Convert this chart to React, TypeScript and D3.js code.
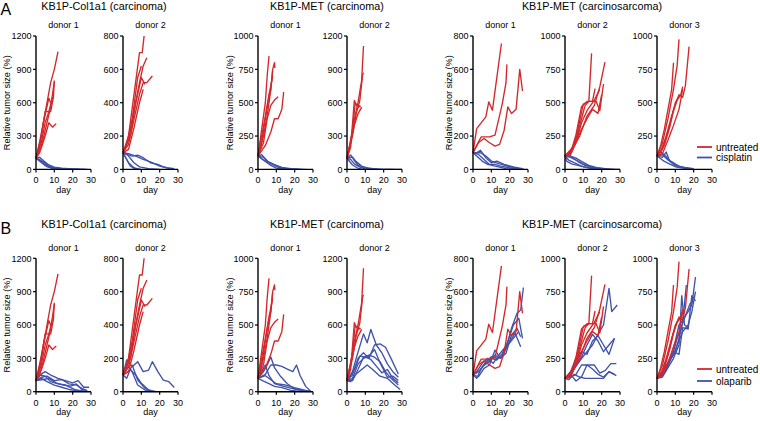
import React from 'react';
import * as d3 from 'd3';

type Pt = [number, number];

// ---------- DATA ----------
const ROW_LABELS = ['A', 'B'];
const GROUP_TITLES = ['KB1P-Col1a1 (carcinoma)', 'KB1P-MET (carcinoma)', 'KB1P-MET (carcinosarcoma)'];
const DONOR_LABELS = ['donor 1', 'donor 2', 'donor 1', 'donor 2', 'donor 1', 'donor 2', 'donor 3'];
const Y_MAX = [1200, 800, 1000, 1200, 800, 1000, 1000];
const X_TICKS = [0, 10, 20, 30];
const TREATMENTS = ['cisplatin', 'olaparib'];
const UNTREATED_LABEL = 'untreated';

// Col1a1 donor 1
const col1D1Untreated: Pt[][] = [
  [[0, 100], [2, 250], [4, 420], [6, 600], [8, 780], [10, 900], [12, 1060]],
  [[0, 100], [3, 300], [5, 520], [8, 520], [9.5, 650], [10, 800]],
  [[0, 100], [2, 200], [4, 420], [7, 640], [8, 600]],
  [[0, 100], [3, 200], [5, 300], [7, 420], [9, 380], [11, 410]],
  [[0, 100], [3, 250], [5, 420], [7, 520], [9, 650]],
  [[0, 100], [2, 150], [4, 280], [6, 420], [8, 560], [10, 790]],
];
const col1D1Cisplatin: Pt[][] = [
  [[0, 100], [2, 90], [4, 50], [7, 20], [10, 10], [14, 5], [21, 0], [28, 0]],
  [[0, 100], [3, 70], [5, 40], [8, 15], [12, 5], [17, 0]],
  [[0, 100], [2, 110], [4, 80], [7, 40], [10, 20], [14, 10], [20, 5], [27, 0]],
  [[0, 100], [3, 60], [6, 25], [9, 10], [13, 0]],
  [[0, 100], [4, 70], [7, 30], [11, 10], [16, 5], [24, 0]],
];
const col1D1Olaparib: Pt[][] = [
  [[0, 100], [3, 160], [5, 180], [8, 150], [12, 120], [16, 100], [20, 80], [23, 100], [26, 40], [29, 40]],
  [[0, 100], [3, 130], [6, 140], [10, 100], [14, 110], [18, 70], [22, 60], [25, 30], [28, 10]],
  [[0, 100], [4, 110], [7, 120], [11, 80], [15, 60], [19, 50], [22, 70], [25, 20], [28, 0]],
  [[0, 100], [2, 150], [5, 140], [8, 90], [12, 70], [16, 60], [21, 20], [24, 10], [27, 0]],
  [[0, 100], [3, 120], [6, 90], [10, 60], [14, 40], [18, 20], [22, 10], [27, 5]],
];

// Col1a1 donor 2
const col1D2Untreated: Pt[][] = [
  [[0, 100], [3, 200], [6, 450], [9, 700], [10.5, 700], [11.5, 800]],
  [[0, 100], [3, 180], [6, 350], [9, 520], [11, 620], [13, 670]],
  [[0, 100], [3, 150], [6, 300], [9, 450], [11, 520], [13, 520], [16, 560]],
  [[0, 100], [4, 200], [7, 400], [10, 550], [12, 510]],
  [[0, 100], [3, 120], [6, 250], [9, 400], [11, 480]],
  [[0, 100], [2, 150], [5, 300], [8, 550], [10, 620]],
];
const col1D2Cisplatin: Pt[][] = [
  [[0, 100], [2, 90], [5, 80], [8, 85], [11, 70], [15, 40], [19, 30], [22, 15], [27, 0]],
  [[0, 100], [3, 95], [7, 80], [11, 60], [15, 45], [20, 20], [24, 10], [28, 5]],
  [[0, 100], [2, 60], [4, 20], [6, 5], [10, 0]],
  [[0, 100], [3, 40], [6, 10], [9, 0]],
  [[0, 110], [3, 80], [6, 40], [9, 15], [14, 5], [20, 0]],
];
const col1D2Olaparib: Pt[][] = [
  [[0, 100], [2, 190], [5, 150], [8, 180], [11, 120], [14, 130], [16, 180], [19, 120], [22, 70], [25, 60], [28, 25]],
  [[0, 100], [3, 150], [5, 120], [8, 40], [12, 10], [15, 0]],
  [[0, 100], [4, 130], [7, 100], [10, 50], [14, 10], [18, 0]],
  [[0, 100], [2, 80], [5, 160], [8, 70], [12, 20], [16, 0]],
];

// MET carcinoma donor 1
const metD1Untreated: Pt[][] = [
  [[0, 100], [2, 300], [4, 500], [5, 700], [6, 850]],
  [[0, 100], [3, 250], [5, 400], [7, 600], [8, 750], [9, 800], [9.2, 760]],
  [[0, 100], [2, 200], [4, 380], [6, 550], [7, 600], [8, 740]],
  [[0, 100], [3, 200], [5, 380], [7, 480], [9, 520], [11, 545]],
  [[0, 100], [4, 180], [7, 280], [9, 380], [11, 380], [13, 450], [14, 580]],
  [[0, 100], [2, 250], [4, 400], [6, 560], [8, 700]],
];
const metD1Cisplatin: Pt[][] = [
  [[0, 100], [2, 110], [4, 80], [6, 50], [9, 30], [12, 10], [16, 5], [20, 0], [26, 0]],
  [[0, 100], [3, 90], [5, 60], [8, 40], [11, 20], [15, 5], [22, 0]],
  [[0, 100], [2, 80], [4, 60], [7, 30], [10, 10], [14, 0]],
  [[0, 100], [3, 70], [6, 55], [9, 35], [13, 15], [18, 5], [24, 0]],
];
const metD1Olaparib: Pt[][] = [
  [[0, 100], [3, 150], [5, 200], [7, 260], [9, 180], [12, 120], [16, 60], [20, 20], [24, 10], [28, 0]],
  [[0, 100], [4, 130], [7, 200], [10, 200], [13, 190], [16, 170], [19, 150], [21, 200], [23, 120], [26, 40], [29, 0]],
  [[0, 100], [2, 150], [4, 200], [6, 120], [9, 60], [14, 40], [20, 20], [27, 0]],
  [[0, 100], [3, 80], [6, 60], [9, 40], [13, 30], [18, 10], [24, 0]],
  [[0, 100], [4, 120], [7, 90], [10, 60], [15, 50], [20, 30], [26, 10], [29, 0]],
];

// MET carcinoma donor 2
const metD2Untreated: Pt[][] = [
  [[0, 100], [2, 250], [4, 450], [6, 600], [8, 800], [9, 1110]],
  [[0, 100], [3, 300], [5, 500], [7, 620], [8.5, 850], [9, 870]],
  [[0, 100], [2, 200], [4, 620], [5, 580], [7, 570]],
  [[0, 100], [3, 350], [4.5, 600], [6, 560], [7.5, 570]],
  [[0, 100], [2, 250], [4, 400], [6, 500], [8, 560]],
];
const metD2Cisplatin: Pt[][] = [
  [[0, 100], [2, 130], [4, 80], [6, 40], [9, 15], [14, 5], [20, 0], [30, 0]],
  [[0, 100], [2, 90], [4, 50], [7, 20], [10, 5], [15, 0]],
  [[0, 100], [3, 110], [5, 70], [8, 30], [12, 10], [18, 0], [25, 0]],
  [[0, 100], [1, 80], [3, 40], [6, 10], [9, 0]],
];
const metD2Olaparib: Pt[][] = [
  [[0, 100], [3, 180], [5, 300], [9, 520], [11, 440], [13, 560], [16, 420], [19, 350], [22, 250], [25, 180], [28, 130]],
  [[0, 100], [3, 150], [6, 300], [9, 350], [12, 300], [15, 420], [18, 430], [21, 400], [24, 300], [28, 160]],
  [[0, 100], [4, 200], [7, 320], [10, 310], [13, 290], [16, 230], [19, 170], [22, 200], [25, 120], [28, 80]],
  [[0, 100], [2, 90], [5, 160], [8, 200], [11, 240], [14, 200], [18, 140], [22, 120], [26, 60], [29, 20]],
  [[0, 100], [3, 120], [6, 250], [9, 300], [12, 320], [15, 380], [18, 260], [22, 130], [25, 140], [28, 100]],
  [[0, 100], [3, 100], [6, 200], [9, 310], [12, 330], [15, 310], [18, 270], [21, 180], [24, 120], [28, 60]],
];

// MET carcinosarcoma donor 1
const csD1Untreated: Pt[][] = [
  [[0, 100], [2, 245], [7, 315], [8.6, 405], [10.6, 355], [15.5, 755]],
  [[0, 100], [3, 165], [4.5, 195], [9, 195], [12, 205], [16, 395], [18, 520], [18.5, 630]],
  [[0, 100], [3, 160], [6, 185], [9, 160], [12, 140], [14.5, 150], [17, 235], [19, 375], [21, 335], [23.5, 360], [25.5, 600], [27, 470]],
];
const csD1Cisplatin: Pt[][] = [
  [[0, 100], [2, 100], [4, 115], [7, 70], [10, 40], [13, 50], [17, 30], [22, 15], [27, 5]],
  [[0, 100], [3, 90], [6, 60], [9, 30], [12, 30], [15, 20], [20, 10], [26, 0]],
  [[0, 100], [2, 80], [5, 50], [8, 30], [12, 20], [18, 5], [24, 0]],
  [[0, 100], [4, 100], [7, 80], [10, 50], [14, 35], [19, 20], [25, 5], [28, 0]],
];
const csD1Olaparib: Pt[][] = [
  [[0, 100], [2, 80], [5, 150], [9, 180], [12, 220], [15, 200], [18, 260], [21, 380], [24, 470], [26, 490], [27.5, 625]],
  [[0, 100], [3, 120], [6, 160], [10, 200], [13, 190], [16, 230], [19, 300], [22, 400], [25, 440], [27, 320]],
  [[0, 100], [2, 120], [5, 170], [8, 200], [11, 170], [14, 220], [17, 260], [20, 300], [23, 350], [26, 270]],
  [[0, 100], [3, 90], [6, 140], [9, 160], [12, 250], [15, 200], [18, 230], [21, 340], [24, 380], [26, 330]],
  [[0, 100], [4, 130], [7, 180], [10, 210], [13, 200], [16, 210], [19, 280], [22, 320], [25, 360]],
];

// MET carcinosarcoma donor 2
const csD2Untreated: Pt[][] = [
  [[0, 100], [3, 130], [6, 230], [9, 380], [11, 480], [13, 510], [14.5, 870]],
  [[0, 100], [4, 150], [8, 250], [12, 400], [16, 480], [19, 620], [21.8, 805]],
  [[0, 100], [3, 120], [6, 260], [9, 470], [12, 510], [15, 510], [16.4, 605]],
  [[0, 100], [4, 140], [7, 300], [10, 490], [13, 510], [17, 510], [19, 440], [21, 640]],
  [[0, 100], [5, 180], [9, 300], [12, 380], [15, 450], [18, 420], [20, 560]],
  [[0, 100], [3, 110], [6, 200], [9, 350], [12, 440], [16, 520], [19, 600]],
];
const csD2Cisplatin: Pt[][] = [
  [[0, 100], [2, 110], [5, 80], [8, 50], [11, 30], [15, 15], [20, 5], [25, 0], [30, 0]],
  [[0, 100], [3, 90], [6, 70], [10, 40], [14, 20], [18, 5], [24, 0]],
  [[0, 100], [1, 60], [4, 40], [7, 30], [10, 20], [15, 10], [20, 0]],
  [[0, 100], [2, 70], [5, 50], [9, 25], [13, 10], [18, 0]],
  [[0, 100], [3, 100], [6, 85], [9, 60], [13, 30], [17, 15], [22, 5], [27, 0]],
];
const csD2Olaparib: Pt[][] = [
  [[0, 100], [4, 150], [8, 230], [12, 300], [15, 350], [18, 430], [21, 500], [24, 775], [25.5, 600], [28.5, 650]],
  [[0, 100], [3, 130], [6, 200], [9, 260], [12, 350], [15, 430], [18, 380], [21, 300], [24, 350], [27, 400]],
  [[0, 100], [3, 150], [6, 250], [9, 300], [12, 280], [15, 380], [18, 420], [21, 350], [24, 280], [27, 400]],
  [[0, 100], [3, 130], [6, 80], [9, 110], [12, 200], [15, 170], [18, 130], [21, 110], [24, 150], [28, 120]],
  [[0, 100], [3, 110], [6, 130], [9, 200], [12, 200], [16, 200], [19, 140], [22, 160], [25, 210], [28, 210]],
  [[0, 100], [2, 90], [5, 130], [8, 110], [11, 100], [15, 100], [18, 100], [21, 100], [24, 150], [27, 130]],
];

// MET carcinosarcoma donor 3
const csD3Untreated: Pt[][] = [
  [[0, 100], [3, 200], [6, 380], [9, 600], [11, 780], [12, 975]],
  [[0, 100], [2, 180], [4, 300], [6, 450], [8, 600], [9, 800]],
  [[0, 100], [3, 150], [6, 280], [9, 450], [12, 560], [14, 540], [15.5, 630], [17.5, 920]],
  [[0, 100], [2, 130], [5, 250], [8, 400], [11, 520], [13, 560], [14, 620]],
  [[0, 100], [3, 120], [6, 220], [9, 330], [12, 450], [14, 600]],
  [[0, 100], [4, 180], [7, 320], [10, 500], [12, 550]],
];
const csD3Cisplatin: Pt[][] = [
  [[0, 100], [2, 130], [4, 110], [6, 80], [9, 40], [12, 20], [15, 15], [20, 5]],
  [[0, 100], [3, 90], [5, 130], [7, 60], [10, 30], [14, 15], [18, 5]],
  [[0, 100], [2, 80], [4, 60], [7, 40], [10, 20], [14, 10], [20, 0]],
  [[0, 100], [3, 110], [6, 70], [9, 50], [12, 25], [16, 10], [19, 0]],
];
const csD3Olaparib: Pt[][] = [
  [[0, 100], [3, 120], [6, 200], [9, 300], [11, 400], [13, 470], [15, 560], [17, 600], [19, 650], [21, 860]],
  [[0, 100], [3, 110], [6, 180], [9, 250], [12, 350], [13.5, 720], [15, 500], [17, 480]],
  [[0, 100], [4, 140], [7, 230], [10, 300], [12, 400], [14, 520], [16, 800]],
  [[0, 100], [3, 150], [6, 220], [9, 280], [11, 350], [14, 450], [17, 500], [19, 600], [21, 750]],
  [[0, 100], [3, 130], [6, 200], [9, 300], [12, 280], [14, 480], [17, 470], [19, 720], [21, 680]],
  [[0, 100], [4, 150], [7, 250], [10, 380], [12, 500], [15, 550], [18, 660], [20, 680]],
];

const UNTREATED = [col1D1Untreated, col1D2Untreated, metD1Untreated, metD2Untreated, csD1Untreated, csD2Untreated, csD3Untreated];
const CISPLATIN = [col1D1Cisplatin, col1D2Cisplatin, metD1Cisplatin, metD2Cisplatin, csD1Cisplatin, csD2Cisplatin, csD3Cisplatin];
const OLAPARIB = [col1D1Olaparib, col1D2Olaparib, metD1Olaparib, metD2Olaparib, csD1Olaparib, csD2Olaparib, csD3Olaparib];

// ---------- LAYOUT ----------
const W = 760;
const H = 421;
const PLOT_LEFT = [36, 123, 258, 347, 473, 565, 657];
const PLOT_W = 55;
const PLOT_H = 133.4;
const ROW_TOP = [36, 258.3];
const TITLE_X = [104, 327, 592];
const TITLE_Y = [9.5, 227.5];
const LETTER_Y = [14.5, 234];
const YLABEL_X = [10, 233, 452];
const YLABEL_PANELS = [0, 2, 4];
const RED = '#d3282b';
const BLUE = '#4152a9';
const FONT = 'Liberation Sans, Arial, Helvetica, sans-serif';

function Panel({ idx, row }: { idx: number; row: number }) {
  const left = PLOT_LEFT[idx];
  const top = ROW_TOP[row];
  const bottom = top + PLOT_H;
  const yMax = Y_MAX[idx];
  const x = d3.scaleLinear().domain([0, 30]).range([left, left + PLOT_W]);
  const y = d3.scaleLinear().domain([0, yMax]).range([bottom, top]);
  const line = d3.line<Pt>().x(d => x(d[0])).y(d => y(d[1]));
  const yTicks = d3.range(0, yMax + 1, yMax / 4);
  const treated = row === 0 ? CISPLATIN[idx] : OLAPARIB[idx];
  const ylIdx = YLABEL_PANELS.indexOf(idx);
  return (
    <g>
      <text x={left + PLOT_W / 2} y={top - 7.7} textAnchor="middle" fontSize={9} fontFamily={FONT}>{DONOR_LABELS[idx]}</text>
      {treated.map((s, i) => (
        <path key={'t' + i} d={line(s) || ''} fill="none" stroke={BLUE} strokeWidth={1.35} strokeLinejoin="round" />
      ))}
      {UNTREATED[idx].map((s, i) => (
        <path key={'u' + i} d={line(s) || ''} fill="none" stroke={RED} strokeWidth={1.35} strokeLinejoin="round" />
      ))}
      <line x1={left} x2={left} y1={top} y2={bottom} stroke="#000" strokeWidth={1.4} />
      <line x1={left} x2={left + PLOT_W} y1={bottom} y2={bottom} stroke="#000" strokeWidth={1.4} />
      {yTicks.map(t => (
        <g key={'y' + t}>
          <line x1={left - 3} x2={left} y1={y(t)} y2={y(t)} stroke="#000" strokeWidth={1.2} />
          <text x={left - 4.5} y={y(t) + 3.2} textAnchor="end" fontSize={9} fontFamily={FONT}>{t}</text>
        </g>
      ))}
      {X_TICKS.map(t => (
        <g key={'x' + t}>
          <line x1={x(t)} x2={x(t)} y1={bottom} y2={bottom + 3} stroke="#000" strokeWidth={1.2} />
          <text x={x(t)} y={bottom + 14} textAnchor="middle" fontSize={9} fontFamily={FONT}>{t}</text>
        </g>
      ))}
      <text x={left + PLOT_W / 2} y={bottom + 23.5} textAnchor="middle" fontSize={9} fontFamily={FONT}>day</text>
      {ylIdx >= 0 && (
        <text transform={`translate(${YLABEL_X[ylIdx]},${top + PLOT_H / 2}) rotate(-90)`} textAnchor="middle" fontSize={9.2} fontFamily={FONT}>
          Relative tumor size (%)
        </text>
      )}
    </g>
  );
}

export default function App() {
  const legendY = [[147, 157.5], [369, 381]];
  return (
    <svg width={W} height={H} style={{ position: 'absolute', left: 0, top: 0, background: '#fff' }}>
      <rect x={0} y={0} width={W} height={H} fill="#fff" />
      {ROW_LABELS.map((lab, row) => (
        <g key={lab}>
          <text x={0.5} y={LETTER_Y[row]} fontSize={16} fontFamily={FONT}>{lab}</text>
          {GROUP_TITLES.map((t, gi) => (
            <text key={t} x={TITLE_X[gi]} y={TITLE_Y[row]} textAnchor="middle" fontSize={10.8} fontFamily={FONT}>{t}</text>
          ))}
          {PLOT_LEFT.map((_, idx) => <Panel key={idx} idx={idx} row={row} />)}
          <g>
            <line x1={697} x2={712} y1={legendY[row][0]} y2={legendY[row][0]} stroke={RED} strokeWidth={1.8} />
            <text x={716} y={legendY[row][0] + 3.5} fontSize={10} fontFamily={FONT}>{UNTREATED_LABEL}</text>
            <line x1={697} x2={712} y1={legendY[row][1]} y2={legendY[row][1]} stroke={BLUE} strokeWidth={1.8} />
            <text x={716} y={legendY[row][1] + 3.5} fontSize={10} fontFamily={FONT}>{TREATMENTS[row]}</text>
          </g>
        </g>
      ))}
    </svg>
  );
}
